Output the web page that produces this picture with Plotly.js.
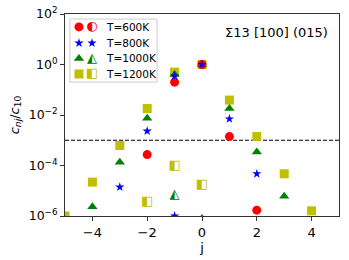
<!DOCTYPE html>
<html>
<head>
<meta charset="utf-8">
<script src="https://cdn.plot.ly/plotly-3.0.1.min.js"></script>
<style>html,body{margin:0;padding:0;background:#fff;}#chart{width:349px;height:260px;}</style>
</head>
<body>
<div id="chart"></div>
<script>
// ---- data ----
const temps = ["T=600K", "T=800K", "T=1000K", "T=1200K"];
const colors = ["#ff0000", "#0000ff", "#008000", "#bfbf00"];
const filledSymbols = ["circle", "star", "triangle-up", "square"];
const halfGlyphs = ["\u25D0", "\u2605", "\u25ED", "\u25E7"];

const j600 = [-2, -1, 0, 1, 2];
const c600 = [2.7e-4, 0.2, 1, 1.4e-3, 1.7e-6];
const j800 = [-3, -2, -1, 0, 1, 2];
const c800 = [1.4e-5, 2.3e-3, 0.35, 1, 7e-3, 4.7e-5];
const j1000 = [-4, -3, -2, -1, 0, 1, 2, 3];
const c1000 = [2.3e-6, 1.35e-4, 7.5e-3, 0.4, 1, 0.018, 3.4e-4, 6.1e-6];
const j1200 = [-5, -4, -3, -2, -1, 0, 1, 2, 3, 4];
const c1200 = [1e-6, 2.2e-5, 6.2e-4, 0.018, 0.5, 1, 0.039, 1.4e-3, 4.7e-5, 1.6e-6];

// second (half-filled) set
const j600h = [];
const c600h = [];
const j800h = [-1];
const c800h = [1e-6];
const j1000h = [-1, 0];
const c1000h = [7e-6, 8e-7];
const j1200h = [-2, -1, 0];
const c1200h = [3.6e-6, 1e-4, 1.8e-5];

const thresholdX = [-5, 5];
const thresholdY = [1e-3, 1e-3];

const xTicks = [-4, -2, 0, 2, 4];
const yTicks = [1e-6, 1e-4, 1e-2, 1, 100];
const yTickText = ["10<sup>\u22126</sup>", "10<sup>\u22124</sup>", "10<sup>\u22122</sup>", "10<sup>0</sup>", "10<sup>2</sup>"];
const titleText = "\u03A313 [100] (015)";

// ---- build ----
const yMin = 1e-6;
const filled = [[j600, c600], [j800, c800], [j1000, c1000], [j1200, c1200]];
const halves = [[j600h, c600h], [j800h, c800h], [j1000h, c1000h], [j1200h, c1200h]];
const sizes = [9, 7, 9, 9];
const drawOrder = [3, 2, 0, 1];

const traces = [];
traces.push({x: thresholdX, y: thresholdY, mode: "lines", line: {color: "#000", width: 1, dash: "4px,2px"}, hoverinfo: "skip", showlegend: false});

function markerTrace(xs, ys, i, extra) {
  return Object.assign({x: xs, y: ys, mode: "markers", showlegend: false, hoverinfo: "skip",
    marker: {symbol: filledSymbols[i], size: sizes[i], color: colors[i], line: {width: 0}}}, extra || {});
}

// half-filled set: glyphs for points inside the range, plain markers where only an edge peeks in
[0, 1, 2, 3].forEach(i => {
  const xs = halves[i][0], ys = halves[i][1];
  if (!xs.length) return;
  const inX = [], inY = [], edgeX = [], edgeY = [];
  xs.forEach((x, k) => {
    if (i === 1 || ys[k] < yMin) { edgeX.push(x); edgeY.push(ys[k]); }
    else { inX.push(x); inY.push(ys[k]); }
  });
  if (edgeX.length) traces.push(markerTrace(edgeX, edgeY, i));
  if (inX.length) traces.push({x: inX, y: inY, mode: "text", text: inX.map(() => halfGlyphs[i]),
    textposition: "middle center", showlegend: false, hoverinfo: "skip",
    textfont: {family: "DejaVu Sans", size: 13, color: colors[i]}});
});

drawOrder.forEach(i => {
  traces.push(markerTrace(filled[i][0], filled[i][1], i, {name: temps[i]}));
});

// legend samples on an overlay axis pair
const legY = [0.936, 0.856, 0.78, 0.703];
const legX1 = 0.051, legX2 = 0.0985, legXt = 0.142;
[0, 1, 2, 3].forEach(i => {
  traces.push(markerTrace([legX1], [legY[i]], i, {xaxis: "x2", yaxis: "y2"}));
  if (i === 1) {
    traces.push(markerTrace([legX2], [legY[i]], i, {xaxis: "x2", yaxis: "y2"}));
  } else {
    traces.push({x: [legX2], y: [legY[i]], xaxis: "x2", yaxis: "y2", mode: "text", text: [halfGlyphs[i]], showlegend: false, hoverinfo: "skip",
      textposition: "middle center", textfont: {family: "DejaVu Sans", size: 13, color: colors[i]}});
  }
});

const annotations = temps.map((t, i) => ({
  xref: "paper", yref: "paper", x: legXt, y: legY[i], xanchor: "left", yanchor: "middle",
  text: t, showarrow: false, font: {family: "DejaVu Sans", size: 10.5, color: "#000"}
}));
annotations.push({xref: "paper", yref: "paper", x: 0.967, y: 0.906, xanchor: "right", yanchor: "middle",
  text: titleText, showarrow: false, font: {family: "DejaVu Sans", size: 13, color: "#000"}});

const layout = {
  width: 349, height: 260,
  margin: {l: 65, r: 10, t: 14, b: 44},
  paper_bgcolor: "#fff", plot_bgcolor: "#fff",
  showlegend: false,
  font: {family: "DejaVu Sans", size: 13, color: "#000"},
  xaxis: {range: [-5, 5], tickvals: xTicks, ticks: "outside", ticklen: 4, tickwidth: 1, tickcolor: "#333",
    showline: true, linecolor: "#333", linewidth: 1, mirror: true, showgrid: false, zeroline: false,
    tickfont: {size: 13, color: "#000"}, title: {text: "j", font: {size: 13, color: "#000"}, standoff: 4}},
  yaxis: {type: "log", range: [-6, 2], tickvals: yTicks, ticktext: yTickText, ticks: "outside", ticklen: 4, tickwidth: 1, tickcolor: "#333",
    showline: true, linecolor: "#333", linewidth: 1, mirror: true, showgrid: false, zeroline: false,
    tickfont: {size: 12.5, color: "#000"}, title: {text: "<i>c</i><sub><i>nj</i></sub>/<i>c</i><sub>10</sub>", font: {size: 13, color: "#000"}, standoff: 6}},
  xaxis2: {range: [0, 1], overlaying: "x", visible: false, fixedrange: true},
  yaxis2: {range: [0, 1], overlaying: "y", visible: false, fixedrange: true},
  shapes: [{type: "rect", xref: "paper", yref: "paper", x0: 0.018, x1: 0.336, y0: 0.663, y1: 0.975,
    line: {color: "#cccccc", width: 1}, fillcolor: "rgba(255,255,255,0.8)", layer: "below"}],
  annotations: annotations
};

Plotly.newPlot("chart", traces, layout, {staticPlot: true, displayModeBar: false});
</script>
</body>
</html>
